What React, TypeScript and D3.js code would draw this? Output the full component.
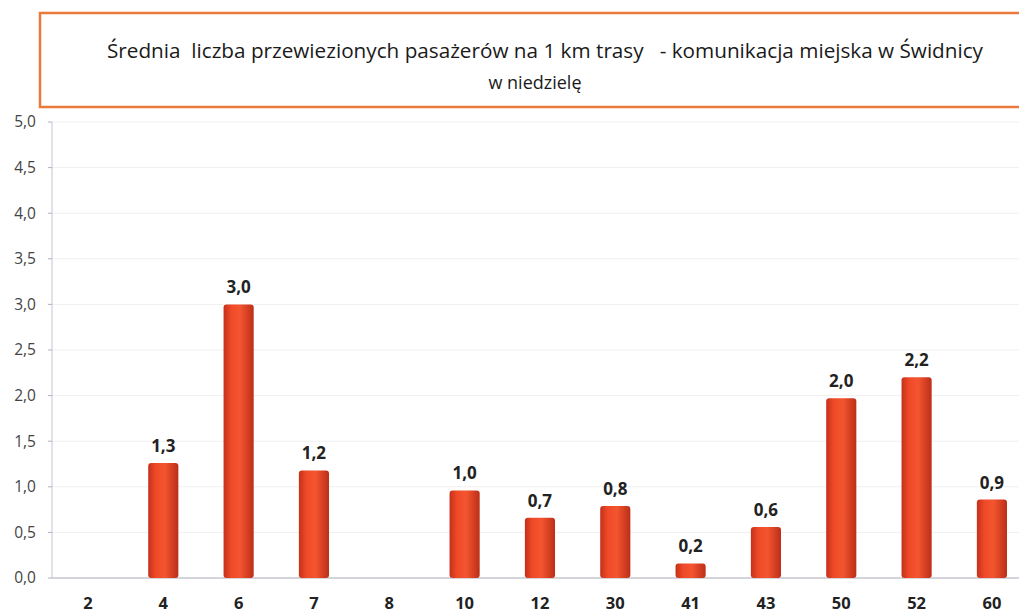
import React from "react";
import * as d3 from "d3";

const categories = ["2", "4", "6", "7", "8", "10", "12", "30", "41", "43", "50", "52", "60"];
const values: (number | null)[] = [null, 1.26, 3.0, 1.18, null, 0.96, 0.66, 0.79, 0.16, 0.56, 1.97, 2.2, 0.86];
const yTicks = [0, 0.5, 1, 1.5, 2, 2.5, 3, 3.5, 4, 4.5, 5];
const titleLine1 = "Średnia  liczba przewiezionych pasażerów na 1 km trasy   - komunikacja miejska w Świdnicy";
const titleLine2 = "w niedzielę";

const W = 1019;
const H = 615;
const plotTop = 122;
const plotBottom = 578;
const plotLeft = 50.3;

export default function App() {
  const x = d3
    .scaleBand<string>()
    .domain(categories)
    .range([plotLeft, plotLeft + 75.33 * categories.length])
    .paddingInner(0.6)
    .paddingOuter(0.3);
  const y = d3.scaleLinear().domain([0, 5]).range([plotBottom, plotTop]);
  const fmt = (v: number) => d3.format(".1f")(v).replace(".", ",");
  const font = "'Open Sans', 'Liberation Sans', sans-serif";
  const bw = x.bandwidth();

  return (
    <svg width={W} height={H} style={{ position: "absolute", left: 0, top: 0, background: "#fff" }} fontFamily={font}>
      <defs>
        <linearGradient id="barGrad" x1="0" x2="1" y1="0" y2="0">
          <stop offset="0%" stopColor="#c4301a" />
          <stop offset="25%" stopColor="#ef4a28" />
          <stop offset="55%" stopColor="#f3552f" />
          <stop offset="100%" stopColor="#bc2e18" />
        </linearGradient>
      </defs>
      <rect x={0} y={0} width={W} height={H} fill="#ffffff" />
      {/* title box */}
      <rect x={40} y={13} width={1000} height={94} fill="#fff" stroke="#ea7a3c" strokeWidth={2.5} />
      <text
        x={545}
        y={58}
        textAnchor="middle"
        fontSize={19.5}
        fill="#1a1a1a"
        fontWeight={500}
        textLength={876}
        lengthAdjust="spacingAndGlyphs"
        style={{ whiteSpace: "pre" }}
      >
        {titleLine1}
      </text>
      <text x={535} y={89} textAnchor="middle" fontSize={18} fill="#1a1a1a" fontWeight={500}>
        {titleLine2}
      </text>
      {/* grid */}
      {yTicks.map((t) => (
        <line key={"g" + t} x1={52} x2={W} y1={y(t)} y2={y(t)} stroke={t === 0 ? "#a9a9b8" : "#f0f0f0"} strokeWidth={1} />
      ))}
      {/* y axis */}
      <line x1={52} x2={52} y1={plotTop} y2={plotBottom} stroke="#c4c4d0" strokeWidth={1} />
      {yTicks.map((t) => (
        <g key={"t" + t}>
          <line x1={48} x2={52} y1={y(t)} y2={y(t)} stroke="#b0b0c0" />
          <text x={36} y={y(t)} dy="0.35em" textAnchor="end" fontSize={15.5} fill="#444">
            {fmt(t)}
          </text>
        </g>
      ))}
      {/* bars */}
      {categories.map((c, i) => {
        const v = values[i];
        if (v == null) return null;
        const x0 = x(c)!;
        const top = y(v);
        const h = plotBottom - top;
        return (
          <g key={"b" + c}>
            <rect x={x0} y={top} width={bw} height={h} rx={3} ry={3} fill="url(#barGrad)" />
            <text x={x0 + bw / 2} y={top - 11} textAnchor="middle" fontSize={17} fontWeight={700} fill="#222">
              {fmt(v)}
            </text>
          </g>
        );
      })}
      {/* x labels */}
      {categories.map((c) => (
        <text key={"x" + c} x={x(c)! + bw / 2} y={609} textAnchor="middle" fontSize={16.5} fontWeight={700} fill="#222">
          {c}
        </text>
      ))}
    </svg>
  );
}
